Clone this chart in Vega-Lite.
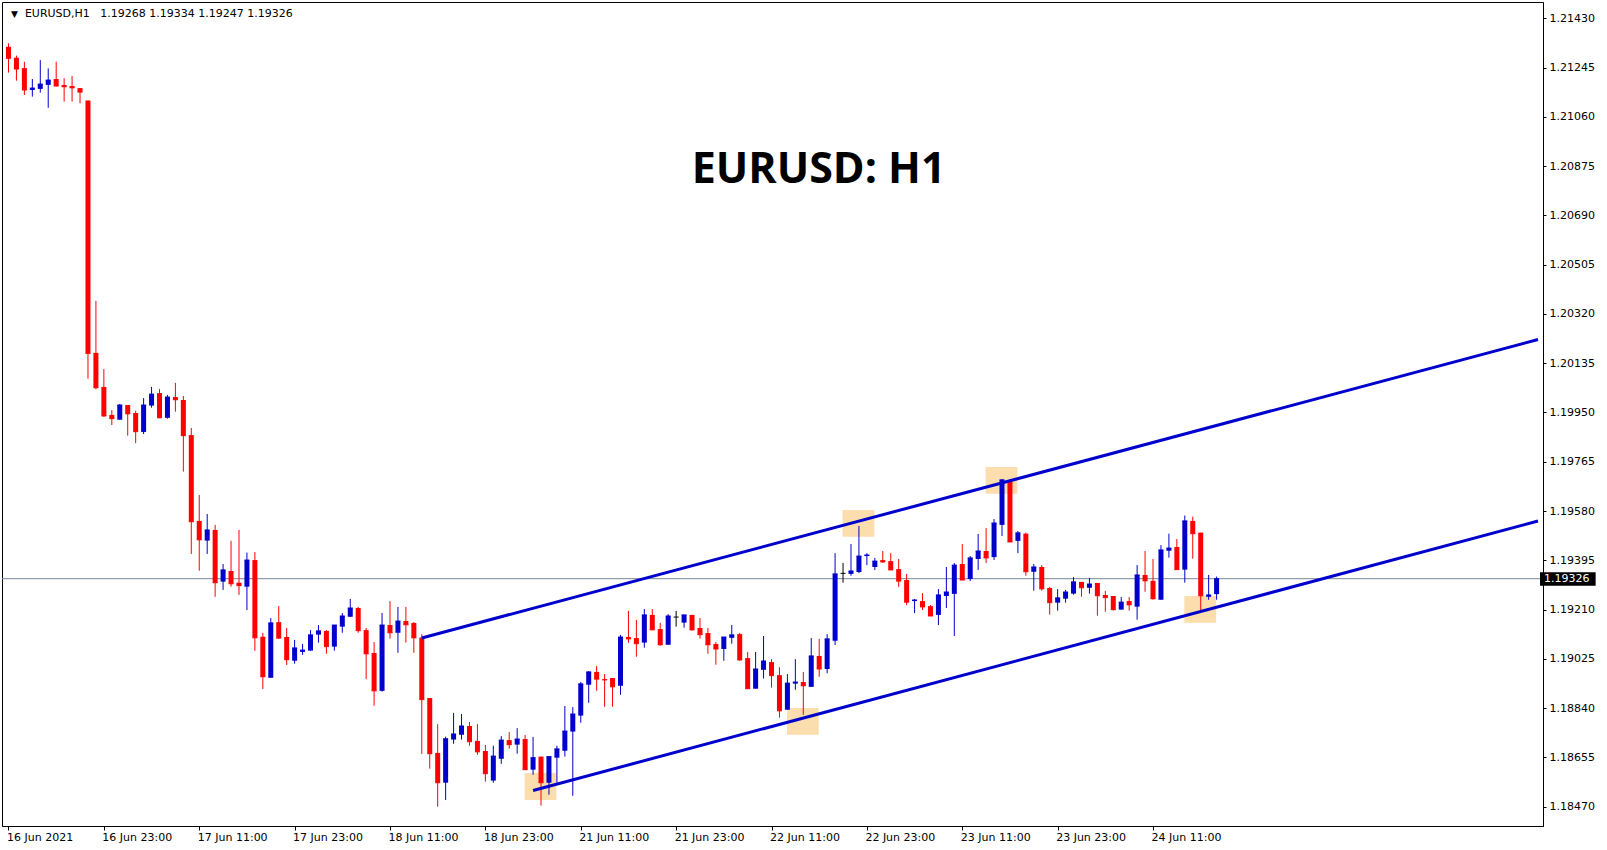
{
  "$schema": "https://vega.github.io/schema/vega-lite/v6.json",
  "width": 1541,
  "height": 824,
  "autosize": "none",
  "padding": {"left": 2, "top": 2, "right": 64, "bottom": 24},
  "background": "white",
  "data": {"values": [{}]},
  "config": {
    "view": {"stroke": "#000000", "strokeWidth": 1},
    "axis": {"domainColor": "#000000", "tickColor": "#000000", "labelColor": "#000000", "labelFont": "DejaVu Sans", "labelFontSize": 11, "grid": false}
  },
  "datasets": {
    "bars": [
      {"i":0,"o":1.21323,"h":1.21336,"l":1.21226,"c":1.21280},
      {"i":1,"o":1.21282,"h":1.21290,"l":1.21196,"c":1.21240},
      {"i":2,"o":1.21243,"h":1.21267,"l":1.21142,"c":1.21161},
      {"i":3,"o":1.21161,"h":1.21202,"l":1.21136,"c":1.21168},
      {"i":4,"o":1.21165,"h":1.21273,"l":1.21151,"c":1.21183},
      {"i":5,"o":1.21180,"h":1.21242,"l":1.21094,"c":1.21198},
      {"i":6,"o":1.21202,"h":1.21267,"l":1.21173,"c":1.21176},
      {"i":7,"o":1.21180,"h":1.21205,"l":1.21117,"c":1.21173},
      {"i":8,"o":1.21176,"h":1.21213,"l":1.21117,"c":1.21169},
      {"i":9,"o":1.21168,"h":1.21168,"l":1.21111,"c":1.21153},
      {"i":10,"o":1.21121,"h":1.21121,"l":1.20077,"c":1.20172},
      {"i":11,"o":1.20174,"h":1.20369,"l":1.20037,"c":1.20043},
      {"i":12,"o":1.20046,"h":1.20113,"l":1.19934,"c":1.19937},
      {"i":13,"o":1.19941,"h":1.19959,"l":1.19903,"c":1.19927},
      {"i":14,"o":1.19923,"h":1.19982,"l":1.19922,"c":1.19978},
      {"i":15,"o":1.19978,"h":1.19978,"l":1.19863,"c":1.19945},
      {"i":16,"o":1.19948,"h":1.19957,"l":1.19835,"c":1.19878},
      {"i":17,"o":1.19877,"h":1.20004,"l":1.19869,"c":1.19978},
      {"i":18,"o":1.19976,"h":1.20046,"l":1.19968,"c":1.20019},
      {"i":19,"o":1.20023,"h":1.20038,"l":1.19930,"c":1.19930},
      {"i":20,"o":1.19930,"h":1.20016,"l":1.19927,"c":1.20008},
      {"i":21,"o":1.20008,"h":1.20061,"l":1.19953,"c":1.19998},
      {"i":22,"o":1.19997,"h":1.20012,"l":1.19728,"c":1.19863},
      {"i":23,"o":1.19865,"h":1.19892,"l":1.19419,"c":1.19540},
      {"i":24,"o":1.19543,"h":1.19640,"l":1.19356,"c":1.19472},
      {"i":25,"o":1.19469,"h":1.19569,"l":1.19419,"c":1.19509},
      {"i":26,"o":1.19509,"h":1.19528,"l":1.19258,"c":1.19311},
      {"i":27,"o":1.19315,"h":1.19381,"l":1.19284,"c":1.19359},
      {"i":28,"o":1.19355,"h":1.19468,"l":1.19296,"c":1.19307},
      {"i":29,"o":1.19311,"h":1.19509,"l":1.19265,"c":1.19300},
      {"i":30,"o":1.19296,"h":1.19424,"l":1.19208,"c":1.19396},
      {"i":31,"o":1.19396,"h":1.19426,"l":1.19055,"c":1.19104},
      {"i":32,"o":1.19108,"h":1.19123,"l":1.18912,"c":1.18958},
      {"i":33,"o":1.18954,"h":1.19178,"l":1.18954,"c":1.19160},
      {"i":34,"o":1.19163,"h":1.19223,"l":1.19100,"c":1.19103},
      {"i":35,"o":1.19107,"h":1.19141,"l":1.19002,"c":1.19022},
      {"i":36,"o":1.19018,"h":1.19096,"l":1.19007,"c":1.19066},
      {"i":37,"o":1.19051,"h":1.19081,"l":1.19040,"c":1.19058},
      {"i":38,"o":1.19056,"h":1.19133,"l":1.19056,"c":1.19115},
      {"i":39,"o":1.19116,"h":1.19152,"l":1.19086,"c":1.19130},
      {"i":40,"o":1.19130,"h":1.19133,"l":1.19044,"c":1.19071},
      {"i":41,"o":1.19071,"h":1.19152,"l":1.19056,"c":1.19152},
      {"i":42,"o":1.19146,"h":1.19197,"l":1.19123,"c":1.19186},
      {"i":43,"o":1.19183,"h":1.19250,"l":1.19183,"c":1.19216},
      {"i":44,"o":1.19216,"h":1.19220,"l":1.19123,"c":1.19131},
      {"i":45,"o":1.19133,"h":1.19141,"l":1.18949,"c":1.19044},
      {"i":46,"o":1.19047,"h":1.19088,"l":1.18849,"c":1.18905},
      {"i":47,"o":1.18905,"h":1.19197,"l":1.18902,"c":1.19152},
      {"i":48,"o":1.19152,"h":1.19242,"l":1.19101,"c":1.19123},
      {"i":49,"o":1.19123,"h":1.19220,"l":1.19048,"c":1.19167},
      {"i":50,"o":1.19167,"h":1.19220,"l":1.19086,"c":1.19153},
      {"i":51,"o":1.19160,"h":1.19163,"l":1.19048,"c":1.19104},
      {"i":52,"o":1.19105,"h":1.19118,"l":1.18668,"c":1.18872},
      {"i":53,"o":1.18878,"h":1.18878,"l":1.18613,"c":1.18669},
      {"i":54,"o":1.18672,"h":1.18780,"l":1.18470,"c":1.18560},
      {"i":55,"o":1.18560,"h":1.18733,"l":1.18495,"c":1.18725},
      {"i":56,"o":1.18722,"h":1.18822,"l":1.18706,"c":1.18743},
      {"i":57,"o":1.18740,"h":1.18818,"l":1.18722,"c":1.18773},
      {"i":58,"o":1.18773,"h":1.18788,"l":1.18699,"c":1.18714},
      {"i":59,"o":1.18717,"h":1.18780,"l":1.18665,"c":1.18676},
      {"i":60,"o":1.18679,"h":1.18702,"l":1.18564,"c":1.18594},
      {"i":61,"o":1.18568,"h":1.18699,"l":1.18560,"c":1.18660},
      {"i":62,"o":1.18650,"h":1.18735,"l":1.18631,"c":1.18720},
      {"i":63,"o":1.18720,"h":1.18750,"l":1.18688,"c":1.18703},
      {"i":64,"o":1.18703,"h":1.18765,"l":1.18669,"c":1.18724},
      {"i":65,"o":1.18724,"h":1.18739,"l":1.18609,"c":1.18609},
      {"i":66,"o":1.18609,"h":1.18732,"l":1.18590,"c":1.18654},
      {"i":67,"o":1.18658,"h":1.18658,"l":1.18474,"c":1.18560},
      {"i":68,"o":1.18560,"h":1.18658,"l":1.18515,"c":1.18658},
      {"i":69,"o":1.18654,"h":1.18699,"l":1.18560,"c":1.18687},
      {"i":70,"o":1.18680,"h":1.18848,"l":1.18658,"c":1.18754},
      {"i":71,"o":1.18752,"h":1.18844,"l":1.18511,"c":1.18818},
      {"i":72,"o":1.18812,"h":1.18938,"l":1.18785,"c":1.18931},
      {"i":73,"o":1.18928,"h":1.18979,"l":1.18860,"c":1.18976},
      {"i":74,"o":1.18976,"h":1.18998,"l":1.18905,"c":1.18949},
      {"i":75,"o":1.18949,"h":1.18968,"l":1.18845,"c":1.18946},
      {"i":76,"o":1.18953,"h":1.18953,"l":1.18845,"c":1.18920},
      {"i":77,"o":1.18924,"h":1.19115,"l":1.18890,"c":1.19107},
      {"i":78,"o":1.19107,"h":1.19205,"l":1.19085,"c":1.19100},
      {"i":79,"o":1.19103,"h":1.19171,"l":1.19033,"c":1.19082},
      {"i":80,"o":1.19086,"h":1.19212,"l":1.19067,"c":1.19190},
      {"i":81,"o":1.19190,"h":1.19212,"l":1.19134,"c":1.19134},
      {"i":82,"o":1.19137,"h":1.19160,"l":1.19074,"c":1.19078},
      {"i":83,"o":1.19078,"h":1.19193,"l":1.19078,"c":1.19186},
      {"i":84,"o":1.19182,"h":1.19205,"l":1.19146,"c":1.19182},
      {"i":85,"o":1.19161,"h":1.19190,"l":1.19142,"c":1.19190},
      {"i":86,"o":1.19190,"h":1.19190,"l":1.19131,"c":1.19134},
      {"i":87,"o":1.19141,"h":1.19178,"l":1.19101,"c":1.19116},
      {"i":88,"o":1.19122,"h":1.19141,"l":1.19044,"c":1.19078},
      {"i":89,"o":1.19081,"h":1.19088,"l":1.19003,"c":1.19062},
      {"i":90,"o":1.19062,"h":1.19107,"l":1.19018,"c":1.19107},
      {"i":91,"o":1.19104,"h":1.19152,"l":1.19082,"c":1.19115},
      {"i":92,"o":1.19118,"h":1.19122,"l":1.19018,"c":1.19021},
      {"i":93,"o":1.19028,"h":1.19051,"l":1.18913,"c":1.18913},
      {"i":94,"o":1.18913,"h":1.19051,"l":1.18913,"c":1.18987},
      {"i":95,"o":1.18984,"h":1.19111,"l":1.18951,"c":1.19017},
      {"i":96,"o":1.19013,"h":1.19024,"l":1.18917,"c":1.18962},
      {"i":97,"o":1.18964,"h":1.18994,"l":1.18804,"c":1.18830},
      {"i":98,"o":1.18834,"h":1.18968,"l":1.18834,"c":1.18934},
      {"i":99,"o":1.18932,"h":1.19024,"l":1.18909,"c":1.18938},
      {"i":100,"o":1.18938,"h":1.18976,"l":1.18815,"c":1.18924},
      {"i":101,"o":1.18920,"h":1.19103,"l":1.18920,"c":1.19036},
      {"i":102,"o":1.19036,"h":1.19100,"l":1.18958,"c":1.18987},
      {"i":103,"o":1.18987,"h":1.19118,"l":1.18971,"c":1.19100},
      {"i":104,"o":1.19093,"h":1.19422,"l":1.19077,"c":1.19344},
      {"i":105,"o":1.19346,"h":1.19385,"l":1.19311,"c":1.19346},
      {"i":106,"o":1.19344,"h":1.19456,"l":1.19337,"c":1.19355},
      {"i":107,"o":1.19351,"h":1.19524,"l":1.19347,"c":1.19411},
      {"i":108,"o":1.19411,"h":1.19422,"l":1.19377,"c":1.19415},
      {"i":109,"o":1.19370,"h":1.19404,"l":1.19359,"c":1.19392},
      {"i":110,"o":1.19396,"h":1.19430,"l":1.19385,"c":1.19389},
      {"i":111,"o":1.19392,"h":1.19422,"l":1.19359,"c":1.19359},
      {"i":112,"o":1.19362,"h":1.19400,"l":1.19295,"c":1.19317},
      {"i":113,"o":1.19321,"h":1.19344,"l":1.19227,"c":1.19238},
      {"i":114,"o":1.19242,"h":1.19250,"l":1.19197,"c":1.19246},
      {"i":115,"o":1.19242,"h":1.19272,"l":1.19208,"c":1.19220},
      {"i":116,"o":1.19223,"h":1.19227,"l":1.19186,"c":1.19186},
      {"i":117,"o":1.19190,"h":1.19287,"l":1.19152,"c":1.19265},
      {"i":118,"o":1.19261,"h":1.19370,"l":1.19216,"c":1.19276},
      {"i":119,"o":1.19269,"h":1.19385,"l":1.19111,"c":1.19377},
      {"i":120,"o":1.19381,"h":1.19456,"l":1.19321,"c":1.19321},
      {"i":121,"o":1.19325,"h":1.19411,"l":1.19317,"c":1.19404},
      {"i":122,"o":1.19400,"h":1.19494,"l":1.19359,"c":1.19430},
      {"i":123,"o":1.19430,"h":1.19516,"l":1.19385,"c":1.19404},
      {"i":124,"o":1.19407,"h":1.19550,"l":1.19396,"c":1.19535},
      {"i":125,"o":1.19528,"h":1.19700,"l":1.19486,"c":1.19697},
      {"i":126,"o":1.19693,"h":1.19700,"l":1.19464,"c":1.19464},
      {"i":127,"o":1.19468,"h":1.19505,"l":1.19422,"c":1.19498},
      {"i":128,"o":1.19495,"h":1.19499,"l":1.19337,"c":1.19352},
      {"i":129,"o":1.19352,"h":1.19381,"l":1.19281,"c":1.19370},
      {"i":130,"o":1.19370,"h":1.19377,"l":1.19281,"c":1.19288},
      {"i":131,"o":1.19291,"h":1.19295,"l":1.19191,"c":1.19236},
      {"i":132,"o":1.19236,"h":1.19287,"l":1.19206,"c":1.19254},
      {"i":133,"o":1.19251,"h":1.19284,"l":1.19236,"c":1.19276},
      {"i":134,"o":1.19270,"h":1.19332,"l":1.19266,"c":1.19314},
      {"i":135,"o":1.19314,"h":1.19314,"l":1.19258,"c":1.19292},
      {"i":136,"o":1.19292,"h":1.19329,"l":1.19270,"c":1.19306},
      {"i":137,"o":1.19310,"h":1.19310,"l":1.19187,"c":1.19262},
      {"i":138,"o":1.19265,"h":1.19280,"l":1.19202,"c":1.19255},
      {"i":139,"o":1.19261,"h":1.19261,"l":1.19206,"c":1.19210},
      {"i":140,"o":1.19210,"h":1.19257,"l":1.19210,"c":1.19238},
      {"i":141,"o":1.19242,"h":1.19257,"l":1.19206,"c":1.19228},
      {"i":142,"o":1.19221,"h":1.19377,"l":1.19172,"c":1.19340},
      {"i":143,"o":1.19340,"h":1.19430,"l":1.19277,"c":1.19318},
      {"i":144,"o":1.19318,"h":1.19400,"l":1.19247,"c":1.19251},
      {"i":145,"o":1.19247,"h":1.19452,"l":1.19247,"c":1.19434},
      {"i":146,"o":1.19431,"h":1.19495,"l":1.19405,"c":1.19441},
      {"i":147,"o":1.19445,"h":1.19475,"l":1.19360,"c":1.19360},
      {"i":148,"o":1.19360,"h":1.19563,"l":1.19311,"c":1.19543},
      {"i":149,"o":1.19543,"h":1.19559,"l":1.19401,"c":1.19495},
      {"i":150,"o":1.19499,"h":1.19499,"l":1.19206,"c":1.19262},
      {"i":151,"o":1.19258,"h":1.19340,"l":1.19247,"c":1.19265},
      {"i":152,"o":1.19268,"h":1.19334,"l":1.19247,"c":1.19326}
    ],
    "zones": [
      {"x1":64.94,"x2":68.94,"p1":1.185965,"p2":1.184951},
      {"x1":97.94,"x2":101.94,"p1":1.188405,"p2":1.187403},
      {"x1":104.94,"x2":108.94,"p1":1.195839,"p2":1.194837},
      {"x1":122.94,"x2":126.94,"p1":1.197453,"p2":1.196451},
      {"x1":147.94,"x2":151.94,"p1":1.192610,"p2":1.191608}
    ],
    "lines": [
      {"line":"upper","i":52,"p":1.191033},
      {"line":"upper","i":192.4375,"p":1.202240},
      {"line":"lower","i":66,"p":1.185308},
      {"line":"lower","i":192.4375,"p":1.195426}
    ]
  },
  "layer": [
    {
      "data": {"name": "zones"},
      "mark": {"type": "rect", "fill": "#FCDDAD"},
      "encoding": {
        "x": {
          "field": "x1", "type": "quantitative",
          "scale": {"domain": [-0.1875, 192.4375], "nice": false, "zero": false},
          "axis": {
            "title": null,
            "orient": "bottom",
            "values": [0, 12, 24, 36, 48, 60, 72, 84, 96, 108, 120, 132, 144],
            "labelExpr": "['16 Jun 2021','16 Jun 23:00','17 Jun 11:00','17 Jun 23:00','18 Jun 11:00','18 Jun 23:00','21 Jun 11:00','21 Jun 23:00','22 Jun 11:00','22 Jun 23:00','23 Jun 11:00','23 Jun 23:00','24 Jun 11:00'][round(datum.value/12)]",
            "labelAlign": "left",
            "labelBaseline": "top",
            "labelPadding": 1,
            "labelOffset": -2,
            "tickSize": 4,
            "labelFlush": false,
            "labelOverlap": false,
            "labelBound": false
          }
        },
        "x2": {"field": "x2"},
        "y": {
          "field": "p1", "type": "quantitative",
          "scale": {"domain": [1.183975, 1.214912], "nice": false, "zero": false},
          "axis": {
            "title": null,
            "orient": "right",
            "values": [1.1847, 1.18655, 1.1884, 1.19025, 1.1921, 1.19395, 1.1958, 1.19765, 1.1995, 1.20135, 1.2032, 1.20505, 1.2069, 1.20875, 1.2106, 1.21245, 1.2143],
            "format": ".5f",
            "tickSize": 3,
            "labelPadding": 3,
            "labelBaseline": "middle",
            "labelFlush": false,
            "labelOverlap": false,
            "labelBound": false
          }
        },
        "y2": {"field": "p2"}
      }
    },
    {
      "mark": {"type": "rule", "color": "#778899", "strokeWidth": 1},
      "encoding": {"y": {"datum": 1.19326, "type": "quantitative"}}
    },
    {
      "data": {"name": "bars"},
      "mark": {"type": "rule", "strokeWidth": 1},
      "encoding": {
        "x": {"field": "i", "type": "quantitative"},
        "y": {"field": "l", "type": "quantitative"},
        "y2": {"field": "h"},
        "color": {"condition": [{"test": "datum.c > datum.o", "value": "#0000CD"}, {"test": "datum.c < datum.o", "value": "#FF0000"}], "value": "#000000"}
      }
    },
    {
      "data": {"name": "bars"},
      "mark": {"type": "bar", "size": 5},
      "encoding": {
        "x": {"field": "i", "type": "quantitative"},
        "y": {"field": "o", "type": "quantitative"},
        "y2": {"field": "c"},
        "color": {"condition": [{"test": "datum.c > datum.o", "value": "#0000CD"}, {"test": "datum.c < datum.o", "value": "#FF0000"}], "value": "#000000"}
      }
    },
    {
      "data": {"name": "bars"},
      "mark": {"type": "tick", "orient": "horizontal", "size": 5, "thickness": 1, "opacity": 1},
      "encoding": {
        "x": {"field": "i", "type": "quantitative"},
        "y": {"field": "c", "type": "quantitative"},
        "color": {"condition": [{"test": "datum.c > datum.o", "value": "#0000CD"}, {"test": "datum.c < datum.o", "value": "#FF0000"}], "value": "#000000"}
      }
    },
    {
      "data": {"name": "lines"},
      "mark": {"type": "line", "color": "#0000CD", "strokeWidth": 3, "strokeCap": "butt"},
      "encoding": {
        "x": {"field": "i", "type": "quantitative"},
        "y": {"field": "p", "type": "quantitative"},
        "detail": {"field": "line"}
      }
    },
    {
      "mark": {"type": "text", "text": "EURUSD: H1", "font": "Open Sans", "fontWeight": "bold", "fontSize": 43, "align": "center", "baseline": "alphabetic", "color": "#000000"},
      "encoding": {
        "x": {"datum": 101.93, "type": "quantitative"},
        "y": {"datum": 1.208105, "type": "quantitative"}
      }
    },
    {
      "mark": {"type": "text", "text": "EURUSD,H1\u00a0\u00a0\u00a01.19268\u00a01.19334\u00a01.19247\u00a01.19326", "font": "DejaVu Sans", "fontSize": 11, "align": "left", "baseline": "alphabetic", "color": "#000000"},
      "encoding": {
        "x": {"datum": 2.0625, "type": "quantitative"},
        "y": {"datum": 1.21436, "type": "quantitative"}
      }
    },
    {
      "mark": {"type": "text", "text": "▼", "font": "DejaVu Sans", "fontSize": 9, "align": "left", "baseline": "alphabetic", "color": "#000000"},
      "encoding": {
        "x": {"datum": 0.3125, "type": "quantitative"},
        "y": {"datum": 1.21436, "type": "quantitative"}
      }
    },
    {
      "mark": {"type": "rect", "fill": "#000000"},
      "encoding": {
        "x": {"datum": 192.69, "type": "quantitative"},
        "x2": {"datum": 199.69},
        "y": {"datum": 1.1935, "type": "quantitative"},
        "y2": {"datum": 1.192997}
      }
    },
    {
      "mark": {"type": "text", "text": "1.19326", "font": "DejaVu Sans", "fontSize": 11, "align": "left", "baseline": "middle", "color": "#FFFFFF"},
      "encoding": {
        "x": {"datum": 193.19, "type": "quantitative"},
        "y": {"datum": 1.19326, "type": "quantitative"}
      }
    }
  ]
}
